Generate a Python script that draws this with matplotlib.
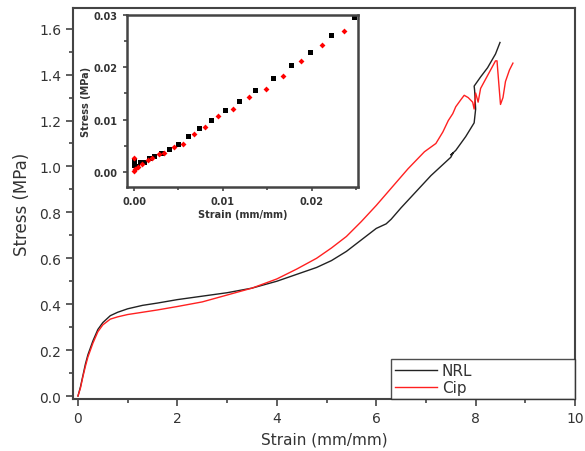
import matplotlib
matplotlib.use("Agg")
import matplotlib.pyplot as plt
from matplotlib.ticker import MultipleLocator

plt.rcParams['font.family'] = ['DejaVu Sans']

# Main curves
nrl_strain = [0, 0.05, 0.1, 0.15, 0.2, 0.3, 0.4, 0.5, 0.65, 0.8, 1.0, 1.3, 1.6, 2.0, 2.5, 3.0, 3.5,
              4.0, 4.4, 4.8, 5.1, 5.4, 5.7, 6.0, 6.2, 6.3, 6.5, 6.8, 7.1, 7.4, 7.5, 7.55, 7.5, 7.6,
              7.8, 7.97, 8.0, 7.98, 7.97, 8.1, 8.24, 8.4, 8.49]
nrl_stress = [0, 0.04, 0.09, 0.14, 0.18, 0.24, 0.29, 0.32, 0.35, 0.365, 0.38, 0.395, 0.405, 0.42,
              0.435, 0.45, 0.47, 0.5, 0.53, 0.56, 0.59, 0.63, 0.68, 0.73, 0.75, 0.77, 0.82, 0.89,
              0.96, 1.02, 1.04, 1.06, 1.05, 1.07, 1.13, 1.19, 1.25, 1.33, 1.35, 1.39, 1.43, 1.49, 1.54]

cip_strain = [0, 0.05, 0.1, 0.15, 0.2, 0.3, 0.4, 0.5, 0.65, 0.8, 1.0, 1.3, 1.6, 2.0, 2.5, 3.0, 3.5,
              4.0, 4.4, 4.8, 5.1, 5.4, 5.7, 6.0, 6.3, 6.64, 6.97, 7.2, 7.34, 7.45, 7.54, 7.6, 7.7,
              7.77, 7.85, 7.94, 7.97, 8.0, 8.05, 8.1, 8.2, 8.3, 8.4, 8.43, 8.47, 8.5, 8.55, 8.6,
              8.68, 8.75]
cip_stress = [0, 0.035, 0.085, 0.13, 0.17, 0.23, 0.28, 0.31, 0.335, 0.345, 0.355, 0.365, 0.375,
              0.39, 0.41, 0.44, 0.47, 0.51, 0.553, 0.6, 0.645, 0.695, 0.76, 0.83, 0.905, 0.99,
              1.064, 1.1, 1.15, 1.2, 1.23, 1.26, 1.29, 1.31, 1.30, 1.28, 1.25, 1.32, 1.28, 1.34,
              1.38, 1.42, 1.46, 1.46, 1.35, 1.27, 1.30, 1.37, 1.42, 1.45]

# Inset points
nrl_in_strain = [0, 0, 0.0003, 0.0007, 0.0011, 0.0017, 0.0023, 0.003, 0.0039, 0.0049, 0.0061,
                 0.0073, 0.0087, 0.0102, 0.0118, 0.0136, 0.0156, 0.0177, 0.0198, 0.0222, 0.0248]
nrl_in_stress = [0.0023, 0.0013, 0.0012, 0.0019, 0.0019, 0.0026, 0.0031, 0.0036, 0.0044, 0.0054,
                 0.0069, 0.0083, 0.0099, 0.0119, 0.0136, 0.0157, 0.0179, 0.0204, 0.0229, 0.0262,
                 0.0297]
cip_in_strain = [0, 0, 0.0001, 0.0004, 0.0009, 0.0016, 0.002, 0.0028, 0.0034, 0.0045, 0.0055,
                 0.0067, 0.008, 0.0095, 0.0111, 0.0129, 0.0148, 0.0168, 0.0188, 0.0212, 0.0236]
cip_in_stress = [0.0026, 0.0002, 0.0005, 0.0010, 0.0016, 0.0022, 0.0027, 0.0034, 0.0037, 0.0047,
                 0.0053, 0.0073, 0.0086, 0.0106, 0.0121, 0.0143, 0.0159, 0.0183, 0.0212, 0.0242,
                 0.027]

spine_col = '#444444'

fig = plt.figure(figsize=(5.85, 4.52), dpi=100)
ax = fig.add_axes([0.1248, 0.115, 0.983 - 0.1248, 0.980 - 0.115])
ax.plot(nrl_strain, nrl_stress, color='#222222', lw=1.0, label='NRL')
ax.plot(cip_strain, cip_stress, color='#ff2020', lw=1.0, label='Cip')
ax.set_xlim(-0.1, 10.0)
ax.set_ylim(-0.013, 1.69)
ax.xaxis.set_major_locator(MultipleLocator(2))
ax.xaxis.set_minor_locator(MultipleLocator(1))
ax.yaxis.set_major_locator(MultipleLocator(0.2))
ax.yaxis.set_minor_locator(MultipleLocator(0.1))
ax.yaxis.set_major_formatter(plt.FuncFormatter(lambda v, p: f"{v:.1f}"))
ax.tick_params(which='both', direction='out', colors=spine_col, labelcolor='#333333', labelsize=10)
ax.tick_params(which='major', length=5, width=1.2)
ax.tick_params(which='minor', length=3, width=1.2)
for s in ax.spines.values():
    s.set_color(spine_col)
    s.set_linewidth(1.5)
ax.set_xlabel('Strain (mm/mm)', fontsize=11, color='#333333', labelpad=5)
ax.set_ylabel('Stress (MPa)', fontsize=12, color='#333333', labelpad=6)
leg = ax.legend(loc='lower left', bbox_to_anchor=(0.633, 0.0, 0.367, 0.1), mode='expand',
                fontsize=11, frameon=True, fancybox=False,
                borderaxespad=0, handlelength=2.8, handletextpad=0.3, borderpad=0.25,
                labelspacing=0.15)
leg.get_frame().set_edgecolor('#222222')
leg.get_frame().set_linewidth(1.0)
for t in leg.get_texts():
    t.set_color('#333333')

# inset
axi = fig.add_axes([0.217, 0.584, 0.612 - 0.217, 0.9646 - 0.584])
axi.plot(nrl_in_strain, nrl_in_stress, 's', color='black', ms=3.6, mew=0)
axi.plot(cip_in_strain, cip_in_stress, 'D', color='red', ms=3.0, mew=0)
axi.set_xlim(-0.0008, 0.0252)
axi.set_ylim(-0.0029, 0.03)
axi.xaxis.set_major_locator(MultipleLocator(0.01))
axi.xaxis.set_minor_locator(MultipleLocator(0.005))
axi.yaxis.set_major_locator(MultipleLocator(0.01))
axi.yaxis.set_minor_locator(MultipleLocator(0.005))
axi.xaxis.set_major_formatter(plt.FuncFormatter(lambda v, p: f"{v:.2f}"))
axi.yaxis.set_major_formatter(plt.FuncFormatter(lambda v, p: f"{v:.2f}"))
axi.tick_params(which='both', direction='out', colors=spine_col, labelcolor='#333333', labelsize=7)
axi.tick_params(which='major', length=3, width=1.2)
axi.tick_params(which='minor', length=2, width=1.2)
for lab in axi.get_xticklabels() + axi.get_yticklabels():
    lab.set_fontweight('bold')
for s in axi.spines.values():
    s.set_color(spine_col)
    s.set_linewidth(1.8)
axi.set_xlabel('Strain (mm/mm)', fontsize=7, fontweight='bold', color='#333333', labelpad=2)
axi.set_ylabel('Stress (MPa)', fontsize=7, fontweight='bold', color='#333333', labelpad=2)

fig.savefig('out.png', dpi=100)
